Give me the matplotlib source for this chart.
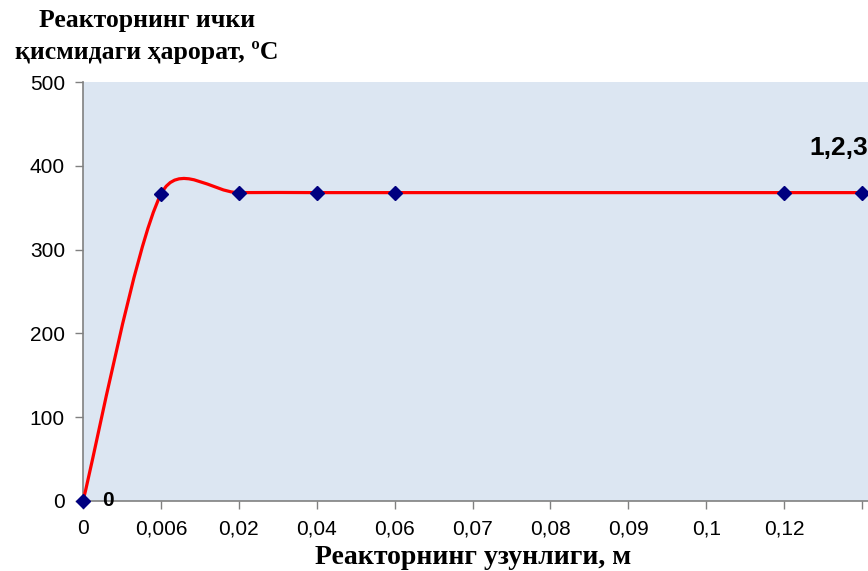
import numpy as np
import matplotlib
matplotlib.use("Agg")
import matplotlib.pyplot as plt
from matplotlib.path import Path
from matplotlib.patches import PathPatch

# ---- data ----
categories = ['0', '0,006', '0,02', '0,04', '0,06', '0,07', '0,08', '0,09', '0,1', '0,12', '']
point_idx = [0, 1, 2, 3, 4, 9, 10]
temps = [0, 366, 368, 368, 368, 368, 368]
y_ticks = [0, 100, 200, 300, 400, 500]

W, H = 868, 571
fig = plt.figure(figsize=(W / 100, H / 100), dpi=100)
L, R, B, T = 83 / W, 1.0, (H - 501) / H, (H - 82) / H
ax = fig.add_axes([L, B, R - L, T - B])
ax.set_facecolor('#DCE6F2')

xmax = (W - 83) / 77.9
ax.set_xlim(0, xmax)
ax.set_ylim(0, 500)

# Smoothed line (Excel-like Bezier smoothing computed in screen-proportional space)
sx, sy = 77.9, 0.838
P = np.array([[i * sx, v * sy] for i, v in zip(point_idx, temps)])
n = len(P)
f = 1.0 / 6.0
verts = [P[0]]
codes = [Path.MOVETO]
for i in range(n - 1):
    p1, p2 = P[i], P[i + 1]
    p0 = P[i - 1] if i > 0 else p1
    p3 = P[i + 2] if i + 2 < n else p2
    d12 = np.linalg.norm(p2 - p1)
    t1 = (p2 - p0) * f
    if np.linalg.norm(t1) > d12 / 2:
        t1 = t1 * (d12 / 2) / np.linalg.norm(t1)
    t2 = (p3 - p1) * f
    if np.linalg.norm(t2) > d12 / 2:
        t2 = t2 * (d12 / 2) / np.linalg.norm(t2)
    verts += [p1 + t1, p2 - t2, p2]
    codes += [Path.CURVE4] * 3
verts = np.array(verts) / np.array([sx, sy])
ax.add_patch(PathPatch(Path(verts, codes), facecolor='none', edgecolor='#FF0000',
                       lw=2.3, zorder=3, clip_on=False))
ax.plot(point_idx, temps, linestyle='none', marker='D', markersize=7,
        color='#000080', zorder=4, clip_on=False)

# data labels
ax.annotate('0', (point_idx[0], temps[0]), xytext=(18, 0), textcoords='offset points',
            ha='center', va='center', fontsize=15, fontweight='bold', family='Liberation Sans')
ax.annotate('1,2,3', (point_idx[-1], temps[-1]), xytext=(-17, 32), textcoords='offset points',
            ha='center', va='center', fontsize=19, fontweight='bold', family='Liberation Sans',
            annotation_clip=False, clip_on=False)

ax.set_xticks(range(len(categories)))
ax.set_xticklabels(categories, fontsize=15, family='Liberation Sans')
ax.set_yticks(y_ticks)
ax.set_yticklabels([str(v) for v in y_ticks], fontsize=15, family='Liberation Sans')
ax.tick_params(axis='both', direction='out', length=6, width=1, color='#808080', pad=7)
for s in ['top', 'right']:
    ax.spines[s].set_visible(False)
for s in ['left', 'bottom']:
    ax.spines[s].set_color('#808080')
    ax.spines[s].set_linewidth(1.2)

fig.text(147 / W, (H - 20) / H, 'Реакторнинг ички', ha='center', va='center',
         fontsize=18.5, fontweight='bold', family='Liberation Serif')
fig.text(147 / W, (H - 52) / H, 'қисмидаги ҳарорат, ºС', ha='center', va='center',
         fontsize=18.5, fontweight='bold', family='Liberation Serif')
fig.text(473 / W, (H - 557) / H, 'Реакторнинг узунлиги, м', ha='center', va='center',
         fontsize=20, fontweight='bold', family='Liberation Serif')

fig.savefig('out.png', dpi=100)
